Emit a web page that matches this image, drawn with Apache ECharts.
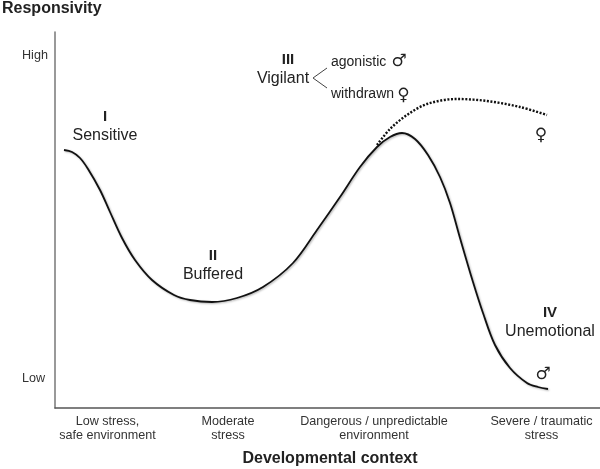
<!DOCTYPE html>
<html>
<head>
<meta charset="utf-8">
<style>
  html, body { margin: 0; padding: 0; background: #fff; }
  #chart { width: 600px; height: 469px; }
</style>
<script src="https://cdn.jsdelivr.net/npm/echarts@6/dist/echarts.min.js"></script>
</head>
<body>
<div id="chart"></div>
<script>
// axis units: x 0-545 across, y 0-376 up
const mainCurve = [
  [9, 258], [17, 256], [25, 250], [33, 239], [45, 218], [55, 196], [67, 170], [80, 148], [97, 128],
  [119, 113], [135, 108], [157, 106], [182, 110], [208, 121], [238, 145], [262, 178],
  [285, 211], [305, 241], [322, 261], [335, 271], [347, 275], [360, 269], [373, 253],
  [385, 231], [395, 205], [405, 170], [418, 126], [428, 95], [440, 63], [455, 40],
  [472, 25], [483, 21], [493, 19]
]
const femaleCurve = [
  [322, 263], [335, 279], [352, 293], [372, 304], [402, 309], [432, 307], [465, 301], [492, 293]
]
const bracket = [[272, 340], [258, 330], [272, 320]]

const xTickValues = [52.5, 173, 319, 486.5]
const xTickLabels = ['Low stress,\nsafe environment', 'Moderate\nstress', 'Dangerous / unpredictable\nenvironment', 'Severe / traumatic\nstress']
const yTickValues = [29, 352.5]
const yTickLabels = ['Low', 'High']

const textFont = '"Liberation Sans", Arial, sans-serif'
const symbolFont = '"DejaVu Sans", sans-serif'

const note = (x, y, text, size, weight, align) => ({
  type: 'text',
  x: x,
  y: y,
  style: {
    text: text,
    fill: '#222',
    font: `${weight || 'normal'} ${size}px ${textFont}`,
    align: align || 'center',
    verticalAlign: 'middle'
  }
})

const sign = (x, y, text, size) => ({
  type: 'text',
  x: x,
  y: y,
  style: {
    text: text,
    fill: '#222',
    font: `${size}px ${symbolFont}`,
    align: 'center',
    verticalAlign: 'middle'
  }
})

const chart = echarts.init(document.getElementById('chart'))

chart.setOption({
  animation: false,
  backgroundColor: '#fff',
  title: {
    text: 'Responsivity',
    left: 2,
    top: 1,
    padding: 0,
    textStyle: { fontFamily: textFont, fontSize: 16, fontWeight: 'bold', color: '#222' }
  },
  grid: { left: 55, right: 0, top: 32, bottom: 61, outerBoundsMode: 'none' },
  xAxis: {
    type: 'value',
    min: 0,
    max: 545,
    name: 'Developmental context',
    nameLocation: 'middle',
    nameGap: 43,
    nameTextStyle: { fontFamily: textFont, fontSize: 16, fontWeight: 'bold', color: '#222', padding: [0, 0, 0, 5] },
    axisLine: { lineStyle: { color: '#555', width: 1.5 } },
    axisTick: { show: false },
    splitLine: { show: false },
    axisLabel: {
      customValues: xTickValues,
      formatter: (v) => xTickLabels[xTickValues.indexOf(v)],
      fontFamily: textFont,
      fontSize: 12.6,
      lineHeight: 14.5,
      color: '#333',
      margin: 6,
      hideOverlap: false
    }
  },
  yAxis: {
    type: 'value',
    min: 0,
    max: 376,
    axisLine: { show: true, lineStyle: { color: '#777', width: 1.5 } },
    axisTick: { show: false },
    splitLine: { show: false },
    axisLabel: {
      customValues: yTickValues,
      formatter: (v) => yTickLabels[yTickValues.indexOf(v)],
      fontFamily: textFont,
      fontSize: 12.6,
      color: '#333',
      align: 'left',
      margin: 33
    }
  },
  series: [
    {
      type: 'line',
      data: femaleCurve,
      smooth: 0.33,
      showSymbol: false,
      lineStyle: { color: '#111', width: 2.4, type: [2, 1.6] },
      z: 2
    },
    {
      type: 'line',
      data: mainCurve,
      smooth: 0.33,
      showSymbol: false,
      lineStyle: { color: '#111', width: 1.8, shadowColor: 'rgba(0,0,0,0.3)', shadowBlur: 2, shadowOffsetX: 1, shadowOffsetY: 1 },
      z: 3
    },
    {
      type: 'line',
      data: bracket,
      showSymbol: false,
      lineStyle: { color: '#444', width: 1 },
      z: 2
    }
  ],
  graphic: [
    note(105, 117, 'I', 15, 'bold'),
    note(105, 136, 'Sensitive', 16),
    note(213, 256, 'II', 15, 'bold'),
    note(213, 275, 'Buffered', 16),
    note(288, 60, 'III', 15, 'bold'),
    note(283, 79, 'Vigilant', 16),
    note(331, 62, 'agonistic', 14, 'normal', 'left'),
    note(331, 94, 'withdrawn', 14, 'normal', 'left'),
    note(550, 313, 'IV', 15, 'bold'),
    note(550, 332, 'Unemotional', 16),
    sign(399, 62, '\u2642', 17),
    sign(403.5, 96, '\u2640', 17),
    sign(541, 136, '\u2640', 17),
    sign(543, 374.5, '\u2642', 17)
  ]
})
</script>
</body>
</html>
